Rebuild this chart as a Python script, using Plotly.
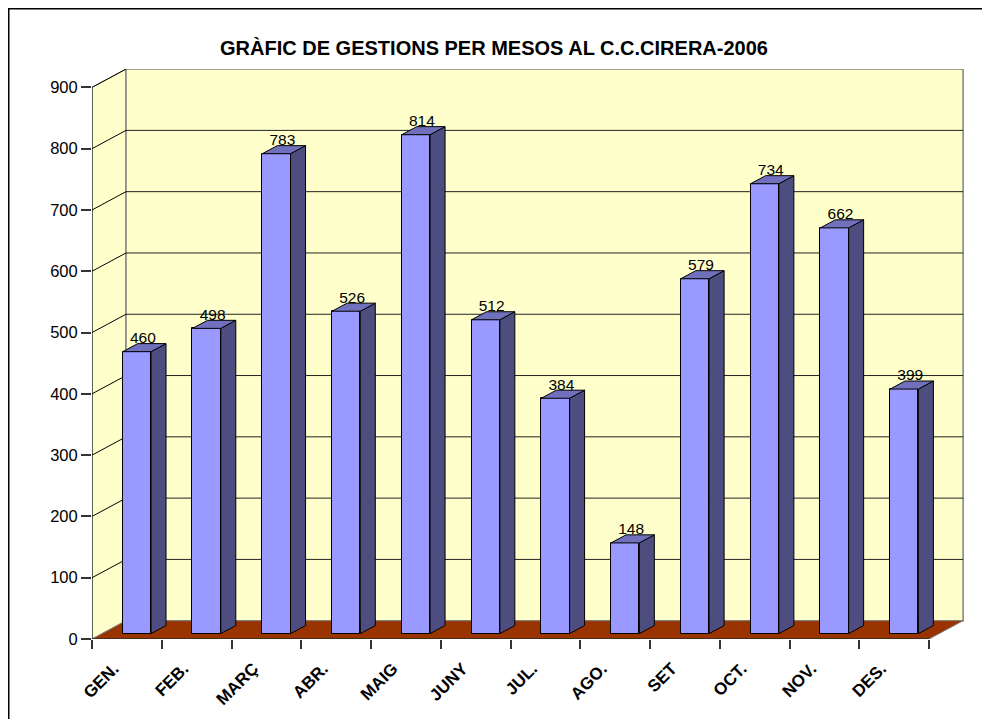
import plotly.graph_objects as go

# ---- data ----
months = ["GEN.", "FEB.", "MARÇ", "ABR.", "MAIG", "JUNY", "JUL.", "AGO.", "SET", "OCT.", "NOV.", "DES."]
values = [460, 498, 783, 526, 814, 512, 384, 148, 579, 734, 662, 399]
y_ticks = [0, 100, 200, 300, 400, 500, 600, 700, 800, 900]
title_text = "GRÀFIC DE GESTIONS PER MESOS AL C.C.CIRERA-2006"

# ---- geometry / style ----
W, H = 990, 719
OFF = 8  # page body margin
ml = 92 - OFF
mt = 69 - OFF
mr = W - (964 - OFF)
mb = H - round(639.3 - OFF)
n = len(months)
xmax = n + 0.5
ymax = 930
pxx = (W - ml - mr) / xmax
pxy = (H - mt - mb) / ymax
DX = 34 / pxx          # wall depth in x units
DY = 18.3 / pxy        # wall depth in y units
f1, f2 = 10 / 34, 25 / 34
bw = 28.3 / pxx
ymaxtick = y_ticks[-1]

FONT = "Liberation Sans, Arial, sans-serif"
WALL = "#FFFFCC"
FLOOR = "#993300"
FRONT = "#9999FF"
SIDE = "#4D4D80"
TOP = "#7070BC"

shapes = []
# side (left) wall
shapes.append(dict(type="path", xref="x", yref="y", layer="below",
                   path=f"M 0,0 L {DX},{DY} L {DX},{ymaxtick+DY} L 0,{ymaxtick} Z",
                   fillcolor=WALL, line=dict(color="#808080", width=1)))
# back wall
shapes.append(dict(type="rect", xref="x", yref="y", layer="below",
                   x0=DX, x1=n + DX, y0=DY, y1=ymaxtick + DY,
                   fillcolor=WALL, line=dict(color="#808080", width=1.5)))
# floor
shapes.append(dict(type="path", xref="x", yref="y", layer="below",
                   path=f"M 0,0 L {n},0 L {n+DX},{DY} L {DX},{DY} Z",
                   fillcolor=FLOOR, line=dict(color="#808080", width=1)))
# gridlines
for v in y_ticks[1:]:
    shapes.append(dict(type="line", xref="x", yref="y", layer="below",
                       x0=0, y0=v, x1=DX, y1=v + DY, line=dict(color="black", width=1)))
    if v < ymaxtick:
        shapes.append(dict(type="line", xref="x", yref="y", layer="below",
                           x0=DX, y0=v + DY, x1=n + DX, y1=v + DY,
                           line=dict(color="#222222", width=1)))
# axes lines
shapes.append(dict(type="line", xref="x", yref="y", x0=0, y0=0, x1=0, y1=ymaxtick,
                   line=dict(color="black", width=1)))
shapes.append(dict(type="line", xref="x", yref="y", x0=0, y0=0, x1=n, y1=0,
                   line=dict(color="black", width=1)))
# outer border (page px 6 -> just at figure edge)
pw = W - ml - mr
ph = H - mt - mb
shapes.append(dict(type="rect", xref="paper", yref="paper", layer="above",
                   x0=(0.75 - ml) / pw, x1=(W + 20 - ml) / pw,
                   y0=-(mb + 20) / ph, y1=(H - mb - 0.75) / ph,
                   line=dict(color="black", width=1.5), fillcolor="rgba(0,0,0,0)"))

# ---- bars ----
cx = [i + 0.5 + f1 * DX for i in range(n)]
base = f1 * DY
ddx = (f2 - f1) * DX
ddy = (f2 - f1) * DY

fig = go.Figure()
fig.add_trace(go.Bar(x=cx, y=values, base=base, width=bw,
                     marker=dict(color=FRONT, line=dict(color="black", width=1)),
                     hoverinfo="skip", showlegend=False))

sx, sy, tx, ty = [], [], [], []
for c, v in zip(cx, values):
    xl, xr = c - bw / 2, c + bw / 2
    t = base + v
    sx += [xr, xr + ddx, xr + ddx, xr, xr, None]
    sy += [base, base + ddy, t + ddy, t, base, None]
    tx += [xl, xr, xr + ddx, xl + ddx, xl, None]
    ty += [t, t, t + ddy, t + ddy, t, None]

fig.add_trace(go.Scatter(x=sx, y=sy, mode="lines", fill="toself", fillcolor=SIDE,
                         line=dict(color="black", width=1), hoverinfo="skip", showlegend=False))
fig.add_trace(go.Scatter(x=tx, y=ty, mode="lines", fill="toself", fillcolor=TOP,
                         line=dict(color="black", width=1), hoverinfo="skip", showlegend=False))

# value labels
fig.add_trace(go.Scatter(x=[c + 6 / pxx for c in cx],
                         y=[base + v + 12.5 / pxy for v in values],
                         mode="text", text=[str(v) for v in values],
                         textposition="middle center",
                         textfont=dict(family=FONT, size=15.5, color="black"),
                         hoverinfo="skip", showlegend=False))

fig.update_layout(
    width=W, height=H,
    margin=dict(l=ml, r=mr, t=mt, b=mb),
    paper_bgcolor="white", plot_bgcolor="white",
    shapes=shapes,
    bargap=0,
    title=dict(text=f"<b>{title_text}</b>", x=(494 - OFF) / W, xref="container", xanchor="center",
               y=1 - (48 - OFF) / H, yref="container", yanchor="middle",
               font=dict(family=FONT, size=20, color="black")),
    xaxis=dict(range=[0, xmax], tickmode="array",
               tickvals=[i + 0.5 - 13 / pxx for i in range(n)],
               ticktext=[f"<b>{m}</b>" for m in months], tickangle=-45,
               ticks="outside", ticklen=12, tickcolor="rgba(0,0,0,0)",
               tickfont=dict(family=FONT, size=17, color="black"),
               showgrid=False, zeroline=False, showline=False,
               minor=dict(tickmode="array", tickvals=list(range(n + 1)), ticks="outside",
                          ticklen=9, tickcolor="#333333", tickwidth=1.5, showgrid=False)),
    yaxis=dict(range=[0, ymax], tickmode="array", tickvals=y_ticks,
               ticks="outside", ticklen=10, tickcolor="#333333", tickwidth=1.5,
               tickfont=dict(family=FONT, size=16.5, color="black"),
               showgrid=False, zeroline=False, showline=False),
)

fig.write_html("out.html")
